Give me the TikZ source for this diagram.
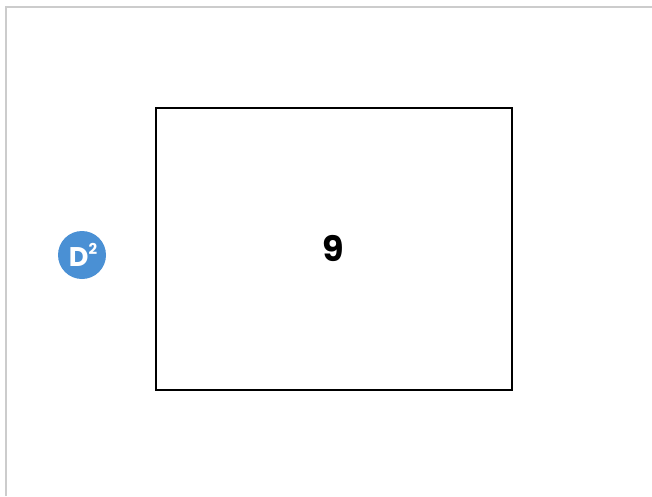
\documentclass[tikz,border=0pt]{standalone}
\usepackage{fontspec}
\newfontfamily\poppins{Poppins}
\definecolor{badgeblue}{HTML}{4A90D4}
\definecolor{framegray}{HTML}{CCCCCC}

\begin{document}
\begin{tikzpicture}[
    x=1pt, y=-1pt,
    frame/.style={draw=framegray, line width=2pt},
    box/.style={draw, line width=2pt, minimum width=356pt, minimum height=282pt, font=\poppins\bfseries\fontsize{35}{40}\selectfont},
    badge/.style={circle, fill=badgeblue, minimum size=48pt, inner sep=0pt, text=white, font=\poppins\bfseries\fontsize{27}{30}\selectfont},
]

\useasboundingbox (0,0) rectangle (652,496);

% Frame
\draw[frame] (6,496) -- (6,7) -- (652,7);

% Main shape
\node[box] (nine) at (333.5, 248.5) {9};

% Logo
\node[badge] (logo) at (82, 255) {\hspace{2pt}D\raisebox{0.42em}{\fontsize{15}{15}\selectfont 2}};

\end{tikzpicture}
\end{document}
